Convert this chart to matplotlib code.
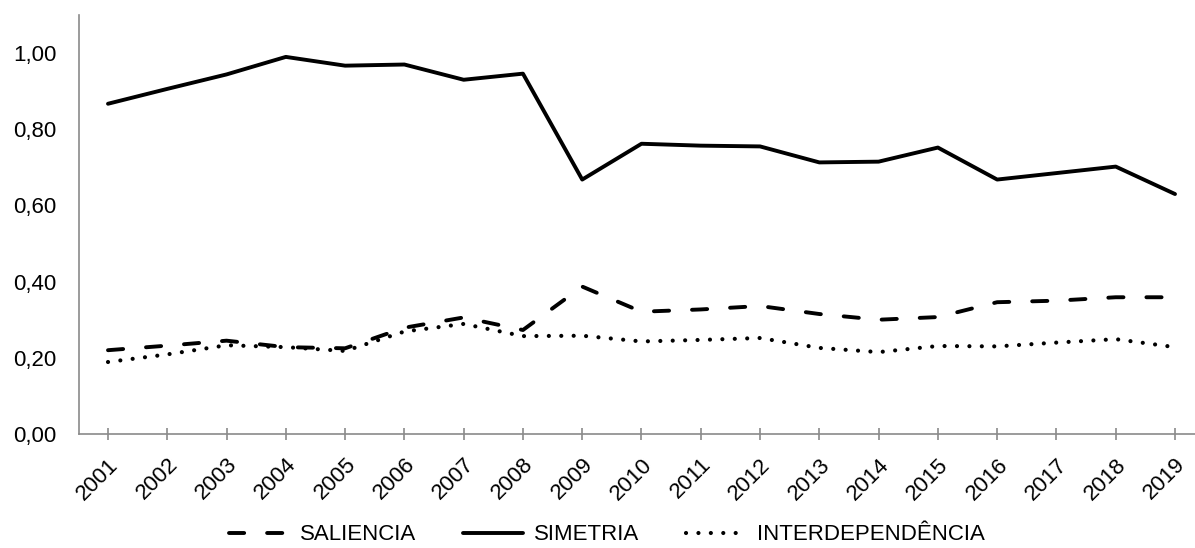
import matplotlib
matplotlib.use("Agg")
import matplotlib.pyplot as plt
from matplotlib.ticker import FuncFormatter
from matplotlib.transforms import ScaledTranslation

plt.rcParams['font.family'] = ['Liberation Sans', 'DejaVu Sans']

years = list(range(2001, 2020))
saliencia = [0.220, 0.232, 0.245, 0.228, 0.225, 0.279, 0.306, 0.273, 0.387, 0.321,
             0.327, 0.336, 0.315, 0.300, 0.307, 0.346, 0.350, 0.359, 0.359]
simetria = [0.867, 0.906, 0.944, 0.990, 0.967, 0.970, 0.930, 0.946, 0.668, 0.762,
            0.757, 0.755, 0.713, 0.715, 0.752, 0.668, 0.685, 0.702, 0.630]
interdependencia = [0.189, 0.209, 0.233, 0.228, 0.218, 0.269, 0.289, 0.257, 0.258, 0.243,
                    0.247, 0.252, 0.226, 0.215, 0.231, 0.230, 0.240, 0.249, 0.228]
labels = ["SALIENCIA", "SIMETRIA", "INTERDEPENDÊNCIA"]

W, H = 1195, 548
fig = plt.figure(figsize=(W / 100, H / 100), dpi=100)
ax = fig.add_axes([79 / W, (H - 434) / H, (W - 79) / W, (434 - 15) / H])

ax.plot(years, saliencia, color='black', lw=2.8, linestyle=(0, (3.9, 5.9)),
        dash_capstyle='round', solid_capstyle='round', label=labels[0])
ax.plot(years, simetria, color='black', lw=2.8, solid_capstyle='round', label=labels[1])
ax.plot(years, interdependencia, color='black', lw=3.0, linestyle=(0, (0.01, 2.97)),
        dash_capstyle='round', label=labels[2])

ax.set_xlim(2001 - 29 / 59.28, 2019 + 20 / 59.28)
ax.set_ylim(0, 1.10)
ax.set_yticks([0, 0.2, 0.4, 0.6, 0.8, 1.0])
ax.yaxis.set_major_formatter(FuncFormatter(lambda v, p: f"{v:.2f}".replace('.', ',')))
ax.set_xticks(years)
ax.set_xticklabels([str(y) for y in years], rotation=45, ha='right', va='top',
                   rotation_mode='anchor')
shift = ScaledTranslation(-1 / 100, 0, fig.dpi_scale_trans)
for lab in ax.get_xticklabels():
    lab.set_transform(lab.get_transform() + shift)

for s in ['top', 'right']:
    ax.spines[s].set_visible(False)
for s in ['left', 'bottom']:
    ax.spines[s].set_color('#8a8a8a')
    ax.spines[s].set_linewidth(1.2)

ax.tick_params(axis='y', length=0, pad=16, labelsize=16, labelcolor='black')
ax.tick_params(axis='x', direction='inout', length=9, width=1.2, color='#8a8a8a',
               pad=10, labelsize=16, labelcolor='black')

fig.legend(loc='center', bbox_to_anchor=(607 / W, 13 / H), ncol=3, frameon=False,
           fontsize=16, handlelength=2.7, columnspacing=2.1, handletextpad=0.5)

fig.savefig("out.png", dpi=100)
